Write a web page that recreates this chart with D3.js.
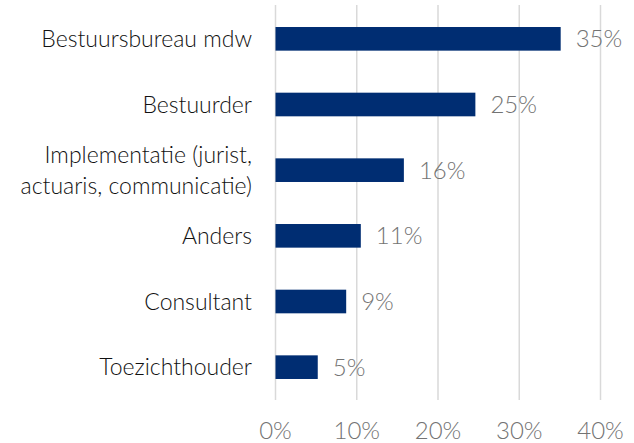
<!DOCTYPE html>
<html>
<head>
<meta charset="utf-8">
<script src="https://cdn.jsdelivr.net/npm/d3@7"></script>
<style>
  body { margin: 0; background: #fff; }
  svg { display: block; font-family: Lato, sans-serif; font-weight: 300; }
</style>
</head>
<body>
<script>
'use strict';

// Data
const categories = [
  ['Bestuursbureau mdw'],
  ['Bestuurder'],
  ['Implementatie (jurist,', 'actuaris, communicatie)'],
  ['Anders'],
  ['Consultant'],
  ['Toezichthouder']
];
const values = [35.1, 24.6, 15.8, 10.5, 8.7, 5.2];
const valueLabels = ['35%', '25%', '16%', '11%', '9%', '5%'];
const ticks = [0, 10, 20, 30, 40];

const width = 634;
const height = 443;

const svg = d3.select('body').append('svg')
  .attr('width', width)
  .attr('height', height);

const x = d3.scaleLinear().domain([0, 40]).range([275.5, 600.5]);
const y = d3.scaleBand()
  .domain(d3.range(values.length))
  .range([6, 400])
  .paddingInner(0.64)
  .paddingOuter(0.32);

// Gridlines
svg.append('g').selectAll('line')
  .data(ticks)
  .enter().append('line')
  .attr('x1', d => x(d)).attr('x2', d => x(d))
  .attr('y1', 5).attr('y2', 400)
  .attr('stroke', '#d9d9d9')
  .attr('stroke-width', 1.5);

// Bars
svg.append('g').selectAll('rect')
  .data(values)
  .enter().append('rect')
  .attr('x', x(0))
  .attr('y', (_d, i) => y(i))
  .attr('width', d => x(d) - x(0))
  .attr('height', y.bandwidth())
  .attr('fill', '#002d72');

// Value labels
svg.append('g').selectAll('text')
  .data(values)
  .enter().append('text')
  .attr('x', d => x(d) + 15)
  .attr('y', (_d, i) => y(i) + y.bandwidth() / 2)
  .attr('dy', '0.36em')
  .attr('fill', '#737373')
  .style('font-size', '24px')
  .text((_d, i) => valueLabels[i]);

// Category labels
const cat = svg.append('g').selectAll('text')
  .data(categories)
  .enter().append('text')
  .attr('x', 252)
  .attr('y', (_d, i) => y(i) + y.bandwidth() / 2)
  .attr('text-anchor', 'end')
  .attr('fill', '#111')
  .style('font-size', '23px');

cat.selectAll('tspan')
  .data(d => d.map((t, j) => ({ t, j, n: d.length })))
  .enter().append('tspan')
  .attr('x', 252)
  .attr('dy', d => d.j === 0 ? `${0.36 - (d.n - 1) * 0.66}em` : '1.32em')
  .text(d => d.t);

// X axis labels
svg.append('g').selectAll('text')
  .data(ticks)
  .enter().append('text')
  .attr('x', d => x(d))
  .attr('y', 430)
  .attr('dy', '0.36em')
  .attr('text-anchor', 'middle')
  .attr('fill', '#737373')
  .style('font-size', '24px')
  .text(d => d + '%');
</script>
</body>
</html>
